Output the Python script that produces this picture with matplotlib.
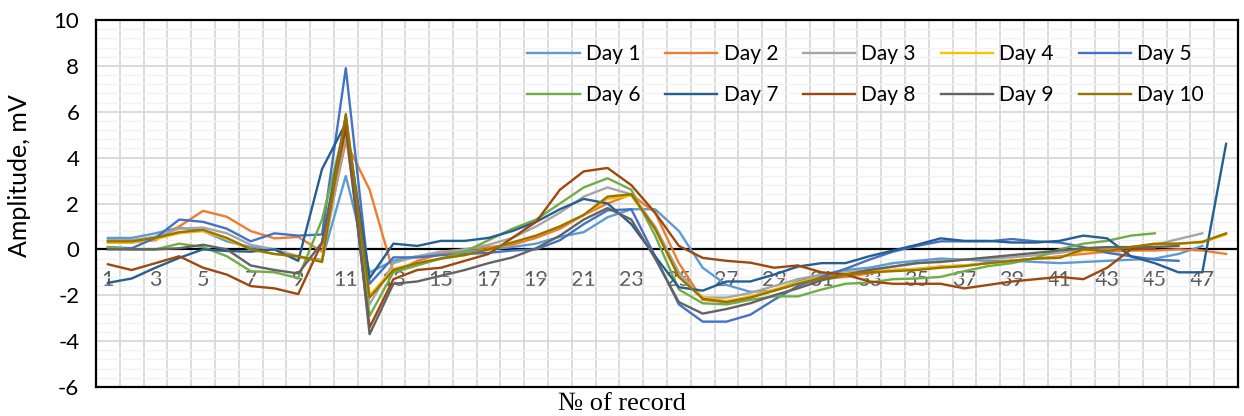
import numpy as np
import matplotlib
matplotlib.use("Agg")
import matplotlib.pyplot as plt
from matplotlib.ticker import MultipleLocator, FixedLocator

plt.rcParams['axes.unicode_minus'] = False

nan = np.nan
records = list(range(1, 49))
tick_labels = [str(i) for i in range(1, 48, 2)]
series_names = ["Day 1", "Day 2", "Day 3", "Day 4", "Day 5",
                "Day 6", "Day 7", "Day 8", "Day 9", "Day 10"]
colors = ["#5B9BD5", "#ED7D31", "#A5A5A5", "#FFC000", "#4472C4",
          "#70AD47", "#255E91", "#9E480E", "#636363", "#997300"]

day1 = [0.5, 0.5, 0.7, 0.95, 0.8, 0.35, 0.1, 0.0, -0.35, -0.45,
        3.2, -1.0, -0.5, -0.3, -0.2, -0.1, 0.0, 0.1, 0.25, 0.55,
        0.75, 1.4, 1.75, 1.75, 0.8, -0.8, -1.55, -1.85, -1.8, -1.4,
        -1.1, -0.9, -0.8, -0.6, -0.5, -0.4, -0.45, -0.5, -0.5, -0.55,
        -0.6, -0.55, -0.5, -0.45, -0.4, -0.2, 0.15, nan]
day2 = [0.3, 0.3, 0.4, 1.0, 1.68, 1.42, 0.8, 0.48, 0.54, -0.1,
        4.7, 2.6, -1.0, -0.5, -0.2, 0.0, 0.1, 0.2, 0.5, 0.9,
        1.5, 2.0, 2.4, 1.6, -0.6, -2.2, -2.3, -2.1, -1.8, -1.5,
        -1.3, -1.2, -1.05, -0.9, -0.85, -0.75, -0.7, -0.6, -0.5, -0.4,
        -0.3, -0.2, -0.1, -0.05, -0.05, 0.0, -0.05, -0.2]
day3 = [0.4, 0.4, 0.55, 0.9, 0.95, 0.7, 0.2, 0.0, -0.3, -0.5,
        5.0, -2.4, -0.6, -0.3, -0.1, 0.0, 0.2, 0.5, 1.0, 1.6,
        2.3, 2.7, 2.4, 1.0, -1.0, -2.1, -2.1, -1.9, -1.6, -1.3,
        -1.1, -1.0, -0.9, -0.75, -0.6, -0.5, -0.45, -0.4, -0.35, -0.25,
        -0.15, 0.0, 0.05, 0.1, 0.2, 0.45, 0.7, nan]
day4 = [0.3, 0.3, 0.45, 0.7, 0.8, 0.45, 0.0, -0.2, -0.35, -0.5,
        5.8, -2.0, -0.85, -0.6, -0.4, -0.25, 0.0, 0.3, 0.6, 1.0,
        1.5, 2.2, 2.35, 0.9, -1.2, -2.1, -2.25, -2.05, -1.75, -1.45,
        -1.2, -1.05, -0.95, -0.9, -0.85, -0.75, -0.7, -0.6, -0.5, -0.4,
        -0.35, -0.05, -0.05, 0.1, 0.2, 0.25, 0.3, 0.65]
day5 = [0.1, 0.05, 0.5, 1.3, 1.2, 0.9, 0.35, 0.7, 0.6, 0.65,
        7.9, -1.5, -0.35, -0.35, -0.25, -0.2, -0.15, -0.05, 0.0, 0.4,
        1.1, 1.7, 1.75, -0.3, -2.4, -3.15, -3.15, -2.85, -2.2, -1.6,
        -1.2, -0.85, -0.45, -0.1, 0.15, 0.35, 0.35, 0.35, 0.45, 0.35,
        0.3, 0.1, -0.15, -0.3, -0.45, -0.5, nan, nan]
day6 = [0.1, 0.0, 0.0, 0.25, 0.1, -0.3, -0.95, -1.0, -1.25, 1.3,
        5.5, -2.9, -1.0, -0.7, -0.4, -0.1, 0.4, 0.9, 1.3, 2.0,
        2.7, 3.1, 2.6, 0.6, -1.75, -2.35, -2.4, -2.2, -2.05, -2.05,
        -1.75, -1.5, -1.45, -1.3, -1.27, -1.2, -0.95, -0.73, -0.6, -0.37,
        0.0, 0.25, 0.37, 0.6, 0.7, nan, nan, nan]
day7 = [-1.46, -1.27, -0.8, -0.37, 0.0, -0.07, -0.1, 0.0, -0.5, 3.5,
        5.5, -1.25, 0.25, 0.15, 0.37, 0.37, 0.5, 0.8, 1.2, 1.75,
        2.2, 2.0, 1.1, -0.3, -1.65, -1.8, -1.4, -1.4, -1.1, -0.75,
        -0.6, -0.6, -0.3, -0.05, 0.2, 0.48, 0.37, 0.37, 0.3, 0.3,
        0.37, 0.6, 0.48, -0.3, -0.6, -1.0, -1.0, 4.6]
day8 = [-0.65, -0.9, -0.6, -0.3, -0.8, -1.1, -1.6, -1.7, -1.95, 0.3,
        5.3, -3.4, -1.3, -0.9, -0.8, -0.5, -0.2, 0.5, 1.2, 2.6,
        3.4, 3.55, 2.8, 1.6, 0.15, -0.37, -0.5, -0.58, -0.8, -0.7,
        -1.0, -1.1, -1.4, -1.5, -1.5, -1.5, -1.7, -1.55, -1.4, -1.3,
        -1.2, -1.3, -0.8, 0.0, 0.05, nan, nan, nan]
day9 = [0.0, 0.0, 0.0, 0.05, 0.2, 0.0, -0.7, -0.9, -1.05, 0.3,
        5.8, -3.7, -1.5, -1.4, -1.15, -0.9, -0.6, -0.35, 0.05, 0.6,
        1.3, 1.8, 1.3, -0.4, -2.3, -2.8, -2.6, -2.35, -2.0, -1.7,
        -1.35, -1.1, -0.9, -0.75, -0.6, -0.55, -0.45, -0.35, -0.25, -0.15,
        -0.05, 0.05, 0.1, 0.1, 0.1, 0.15, nan, nan]
day10 = [0.35, 0.35, 0.5, 0.75, 0.85, 0.5, 0.0, -0.2, -0.3, -0.55,
         5.9, -2.1, -0.9, -0.6, -0.4, -0.25, 0.0, 0.3, 0.6, 1.0,
         1.5, 2.3, 2.4, 0.9, -1.2, -2.15, -2.3, -2.1, -1.8, -1.5,
         -1.25, -1.1, -1.0, -0.95, -0.9, -0.8, -0.73, -0.6, -0.5, -0.4,
         -0.37, 0.0, -0.07, 0.1, 0.25, 0.25, 0.33, 0.7]

series = [day1, day2, day3, day4, day5, day6, day7, day8, day9, day10]

YMIN, YMAX = -6, 10

fig = plt.figure(figsize=(12.44, 4.16), dpi=100)
ax = fig.add_axes([96 / 1244, 1 - 387 / 416, (1238 - 96) / 1244, (387 - 20) / 416])

ax.set_xlim(0.5, 48.5)
ax.set_ylim(YMIN, YMAX)
ax.xaxis.set_major_locator(FixedLocator([]))
ax.xaxis.set_minor_locator(MultipleLocator(1, offset=0.5))
ax.yaxis.set_major_locator(MultipleLocator(2))
ax.yaxis.set_minor_locator(MultipleLocator(0.4))
ax.grid(which='minor', axis='x', color='#d9d9d9', lw=1.3, zorder=0)
ax.grid(which='major', axis='y', color='#d9d9d9', lw=1.3, zorder=0)
ax.grid(which='minor', axis='y', color='#f2f2f2', lw=1.0, zorder=0)
ax.set_axisbelow(True)
ax.tick_params(which='both', length=0)
ax.tick_params(axis='y', labelsize=16, pad=12, labelcolor='black')
for lab in ax.get_yticklabels():
    lab.set_family('Lato')

for s in ax.spines.values():
    s.set_color('black')
    s.set_linewidth(1.6)

ax.axhline(0, color='black', lw=1.6, zorder=1)

lines = []
for name, vals, c in zip(series_names, series, colors):
    ln, = ax.plot(records, vals, color=c, lw=1.7, label=name, zorder=3)
    lines.append(ln)

# category labels next to the zero line
loc = (0 - YMIN) / (YMAX - YMIN)
sec = ax.secondary_xaxis(loc)
sec.set_xticks(list(range(1, 48, 2)))
sec.set_xticklabels(tick_labels)
sec.tick_params(length=0, pad=15, labelsize=15.5, labelcolor='#595959')
for lab in sec.get_xticklabels():
    lab.set_family('Lato')
sec.spines['bottom'].set_visible(False)

ax.set_ylabel("Amplitude, mV", fontsize=18, family='Lato')
ax.yaxis.set_label_coords(-0.057, 0.575)
fig.text(622 / 1244, 1 - 404 / 416, "№ of record", ha='center', va='center',
         fontsize=19, family='Liberation Serif')

# legend filled row by row (5 per row)
order = [0, 5, 1, 6, 2, 7, 3, 8, 4, 9]
leg = ax.legend([lines[i] for i in order], [series_names[i] for i in order],
                ncol=5, loc='upper left', bbox_to_anchor=(517 / 1244, 1 - 34 / 416),
                bbox_transform=fig.transFigure, frameon=False,
                prop={'family': 'Lato', 'size': 15},
                handlelength=2.5, handletextpad=0.3, columnspacing=1.2,
                labelspacing=1.0, borderpad=0)

fig.savefig("out.png", dpi=100)
